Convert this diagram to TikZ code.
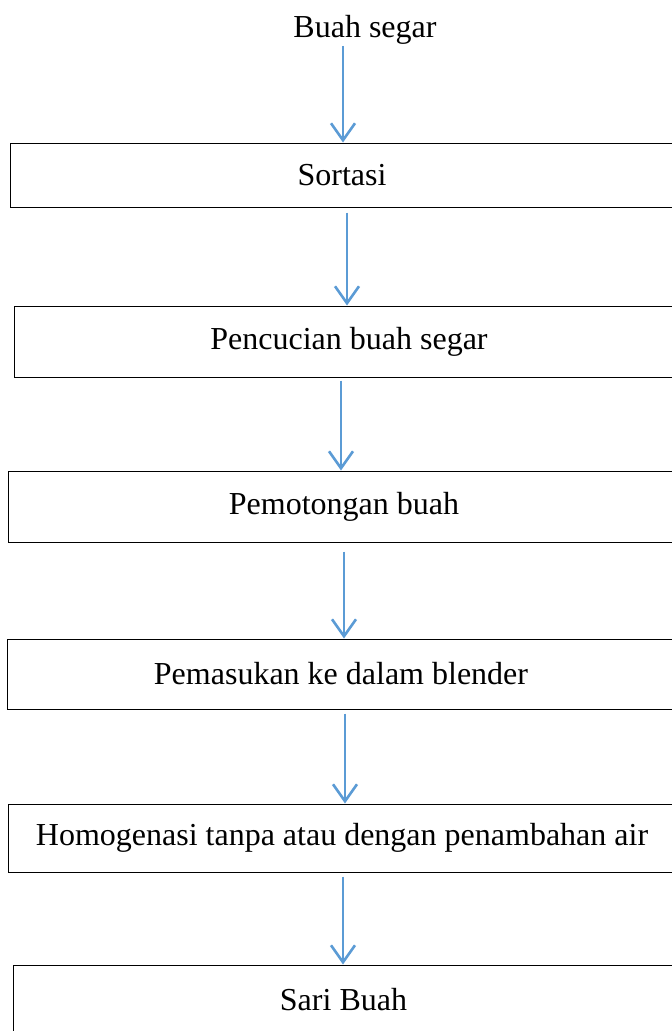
\documentclass[tikz,border=0pt]{standalone}
\usepackage{fontspec}
\setmainfont{Liberation Serif}
\usetikzlibrary{arrows.meta}

\definecolor{flowblue}{RGB}{91,155,213}

\tikzset{
  stage/.style={draw=black, line width=1pt, rectangle, inner sep=0pt,
    font=\fontsize{32}{38}\selectfont},
  flow/.style={draw=flowblue, line width=2.6pt,
    -{Straight Barb[length=17pt,width=24pt,line width=2.6pt]}}
}

\begin{document}
\begin{tikzpicture}[x=1pt,y=-1pt]

 \useasboundingbox (0,0) rectangle (672,1031);

 % start
 \node[inner sep=0pt, font=\fontsize{32}{38}\selectfont] (b0) at (365,30) {Buah segar};

 % boxes
 \node[stage, minimum width=664pt, minimum height=64pt] (b1) at (342,175)   {Sortasi};
 \node[stage, minimum width=670pt, minimum height=71pt] (b2) at (349,341.5) {Pencucian buah segar};
 \node[stage, minimum width=672pt, minimum height=71pt] (b3) at (344,506.5) {Pemotongan buah};
 \node[stage, minimum width=668pt, minimum height=70pt] (b4) at (341,674)   {Pemasukan ke dalam blender};
 \node[stage, minimum width=668pt, minimum height=68pt] (b5) at (342,838)   {Homogenasi tanpa atau dengan penambahan air};
 \node[stage, minimum width=661pt, minimum height=70pt] (b6) at (343.5,1000) {Sari Buah};

 % arrows
 \draw[flow] ([yshift=-1pt]b0.south -| 343,0) -- (b1.north -| 343,0);
 \draw[flow] ([yshift=-5pt]b1.south -| 347,0) -- (b2.north -| 347,0);
 \draw[flow] ([yshift=-3pt]b2.south -| 341,0) -- (b3.north -| 341,0);
 \draw[flow] ([yshift=-9pt]b3.south -| 344,0) -- (b4.north -| 344,0);
 \draw[flow] ([yshift=-4pt]b4.south -| 345,0) -- (b5.north -| 345,0);
 \draw[flow] ([yshift=-4pt]b5.south -| 343,0) -- (b6.north -| 343,0);

\end{tikzpicture}
\end{document}
